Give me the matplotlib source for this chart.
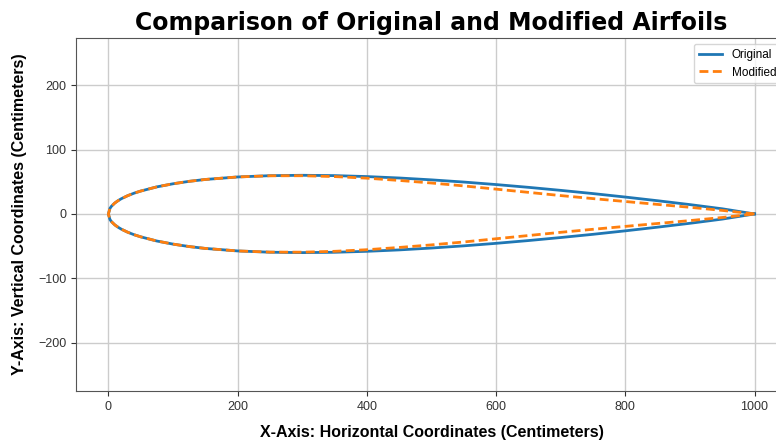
import numpy as np
import matplotlib
matplotlib.use('Agg')
import matplotlib.pyplot as plt

# chordwise stations (cm) and half-thickness of each section
x_pts = [0, 2.5, 5, 10, 15, 20, 30, 40, 50, 75, 100, 125, 150, 200, 250,
         300, 350, 400, 450, 500, 550, 600, 650, 700, 750, 800, 850, 900, 950, 1000]
orig_half = [0, 8.7, 12.2, 17.0, 20.6, 23.6, 28.4, 32.3, 35.5, 42.0, 46.8, 50.6, 53.5, 57.4, 59.4,
             60.0, 59.5, 58.0, 55.8, 52.9, 49.5, 45.6, 41.3, 36.6, 31.6, 26.2, 20.5, 14.5, 8.0, 0]
mod_half = [0, 8.7, 12.2, 17.0, 20.6, 23.6, 28.4, 32.3, 35.5, 42.0, 46.8, 50.6, 53.5, 57.4, 59.2,
            59.3, 58.0, 55.5, 52.0, 48.0, 43.5, 38.5, 33.5, 28.5, 23.8, 19.3, 14.8, 10.3, 5.5, 0]

sans = ['Liberation Sans', 'DejaVu Sans']


def contour(xs, half):
    # trailing edge -> upper surface -> leading edge -> lower surface -> trailing edge
    xs = np.array(xs, dtype=float)
    h = np.array(half, dtype=float)
    return np.concatenate([xs[::-1], xs[1:]]), np.concatenate([h[::-1], -h[1:]])


fig = plt.figure(figsize=(7.76, 4.42), dpi=100)
ax = fig.add_axes([0.098, 0.115, 0.916, 0.799])

xo, yo = contour(x_pts, orig_half)
xm, ym = contour(x_pts, mod_half)
ax.plot(xo, yo, color='#1f77b4', lw=2, label='Original')
ax.plot(xm, ym, color='#ff7f0e', lw=2, ls='--', dashes=(3.2, 1.6), label='Modified')

ax.set_xlim(-50, 1050)
ax.set_ylim(-275, 273)
ax.set_xticks([0, 200, 400, 600, 800, 1000])
ax.set_yticks([-200, -100, 0, 100, 200])
ax.grid(True, color='#cccccc', lw=1)
ax.set_axisbelow(True)
for s in ax.spines.values():
    s.set_color('#555555')
ax.tick_params(colors='#333333', labelsize=9)
for lab in ax.get_xticklabels() + ax.get_yticklabels():
    lab.set_family(sans)

ax.set_title('Comparison of Original and Modified Airfoils', fontsize=17, fontweight='heavy',
             family=['DejaVu Sans'], pad=6)
ax.set_xlabel('X-Axis: Horizontal Coordinates (Centimeters)', fontsize=11.5, fontweight='bold',
              family=sans, labelpad=9)
ax.set_ylabel('Y-Axis: Vertical Coordinates (Centimeters)', fontsize=11.5, fontweight='bold',
              family=sans, labelpad=8)
ax.legend(loc='upper right', prop={'family': sans, 'size': 8.5})

fig.savefig('out.png', dpi=100)
